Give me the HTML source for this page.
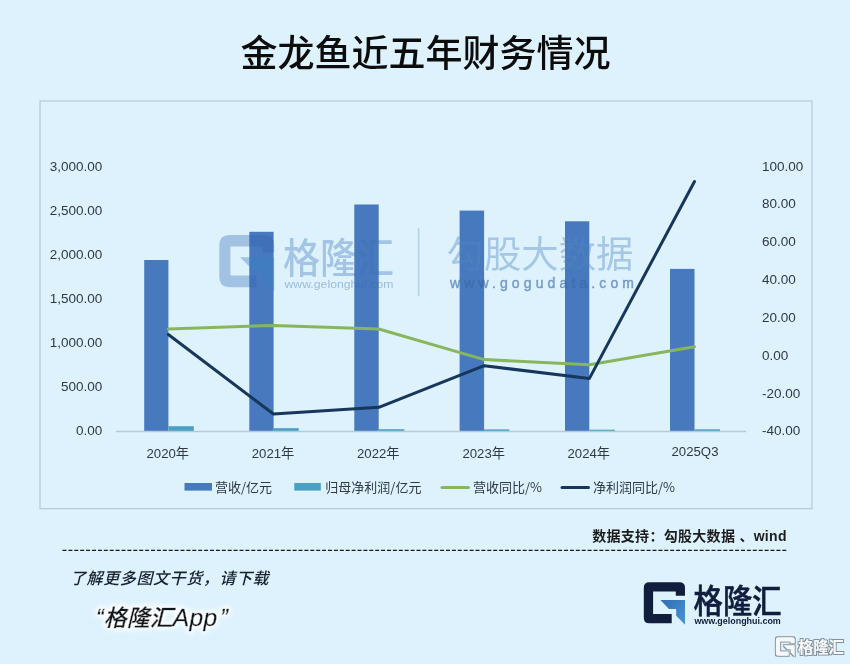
<!DOCTYPE html>
<html lang="zh-CN">
<head>
<meta charset="utf-8">
<title>金龙鱼近五年财务情况</title>
<style>
html,body{margin:0;padding:0;}
body{width:850px;height:664px;overflow:hidden;background:#def2fd;font-family:"Liberation Sans","Noto Sans CJK SC",sans-serif;}
svg{display:block;position:absolute;left:0;top:0;}
text{font-family:"Liberation Sans","Noto Sans CJK SC",sans-serif;}
.ax{font-size:13.5px;fill:#2f3943;}
.lg{font-size:13px;fill:#2f3943;font-family:"Noto Sans CJK SC","Liberation Sans",sans-serif;}
.xl{font-size:13.2px;}
</style>
</head>
<body>
<svg width="850" height="664" viewBox="0 0 850 664">
  <defs>
    <linearGradient id="gblue" x1="0" y1="0" x2="1" y2="1">
      <stop offset="0" stop-color="#2f6fb4"/>
      <stop offset="1" stop-color="#4a93d6"/>
    </linearGradient>
    <filter id="soft" x="-5%" y="-5%" width="110%" height="110%"><feGaussianBlur stdDeviation="0.45"/></filter>
    <filter id="wsh" x="-10%" y="-20%" width="120%" height="150%">
      <feMorphology in="SourceAlpha" operator="dilate" radius="0.6" result="d"/>
      <feGaussianBlur in="d" stdDeviation="0.45" result="b"/>
      <feOffset in="b" dx="0.35" dy="0.45" result="o"/>
      <feFlood flood-color="#6d7780" flood-opacity="0.8"/>
      <feComposite in2="o" operator="in" result="g"/>
      <feMerge><feMergeNode in="g"/><feMergeNode in="SourceGraphic"/></feMerge>
    </filter>
    <filter id="glow" x="-20%" y="-40%" width="140%" height="180%">
      <feMorphology in="SourceAlpha" operator="dilate" radius="2" result="d"/>
      <feGaussianBlur in="d" stdDeviation="2" result="b"/>
      <feFlood flood-color="#ffffff" flood-opacity="0.95"/>
      <feComposite in2="b" operator="in" result="g"/>
      <feMerge><feMergeNode in="g"/><feMergeNode in="SourceGraphic"/></feMerge>
    </filter>
  </defs>
  <rect x="0" y="0" width="850" height="664" fill="#def2fd"/>

  <!-- title -->
  <text x="425.5" y="66.5" text-anchor="middle" font-size="37" font-weight="500" fill="#0c0c0c" style="font-family:'Noto Sans CJK SC','Liberation Sans',sans-serif">金龙鱼近五年财务情况</text>

  <!-- chart frame -->
  <rect x="40" y="101" width="772" height="407.7" fill="none" stroke="#b9cbd7" stroke-width="1.3"/>

  <!-- bars -->
  <g fill="#4679bd">
    <rect x="144.2" y="260" width="24.2" height="171.3"/>
    <rect x="249.3" y="231.8" width="24.3" height="199.5"/>
    <rect x="354.3" y="204.5" width="24.4" height="226.8"/>
    <rect x="459.6" y="210.6" width="24.5" height="220.7"/>
    <rect x="565" y="221.3" width="24.3" height="210.0"/>
    <rect x="670" y="268.9" width="24.5" height="162.4"/>
  </g>
  <g fill="#4aa0c4">
    <rect x="168.4" y="426.2" width="25.4" height="5.1"/>
    <rect x="273.6" y="428.2" width="25.2" height="3.1"/>
    <rect x="378.7" y="429.2" width="25.6" height="2.1"/>
    <rect x="484.1" y="429.4" width="25.2" height="1.9"/>
    <rect x="589.3" y="429.7" width="25.6" height="1.6"/>
    <rect x="694.5" y="429.3" width="25.5" height="2.0"/>
  </g>
  <!-- axis line -->
  <line x1="115.8" y1="431.5" x2="746" y2="431.5" stroke="#b9cad6" stroke-width="1.3"/>

  <!-- watermark -->
  <g>
    <path fill="#2f68b0" fill-opacity="0.34" d="M229.5 235 H264 Q274.2 235 274.2 245.2 V252.5 H262.5 V246.6 H230.4 V275.6 H256.5 V287.2 H229.5 Q219.3 287.2 219.3 277 V245.2 Q219.3 235 229.5 235 Z"/>
    <path fill="#3b7fc6" fill-opacity="0.38" d="M240 257.3 H274.2 V291 L262.5 279 V269.8 H252.5 Z"/>
    <text transform="translate(283,273) scale(1,1.1)" x="0" y="0" font-size="37" font-weight="500" fill="#3a72b8" fill-opacity="0.36" style="font-family:'Noto Sans CJK SC',sans-serif">格隆汇</text>
    <text x="284.5" y="288.3" font-size="10.5" font-weight="400" fill="#3a6aa8" fill-opacity="0.4" textLength="109" lengthAdjust="spacingAndGlyphs">www.gelonghui.com</text>
    <line x1="418.6" y1="228" x2="418.6" y2="296" stroke="#3a6aa8" stroke-opacity="0.25" stroke-width="1.6"/>
    <text x="446.5" y="267.5" font-size="37.4" font-weight="400" fill="#5088c4" fill-opacity="0.4" style="font-family:'Noto Sans CJK SC',sans-serif">勾股大数据</text>
    <text x="450" y="288" font-size="14" font-weight="400" fill="#3a6aa8" fill-opacity="0.55" stroke="#3a6aa8" stroke-opacity="0.5" stroke-width="0.5" textLength="184" lengthAdjust="spacing">www.gogudata.com</text>
  </g>

  <!-- lines -->
  <polyline fill="none" stroke="#88b65e" stroke-width="3" stroke-linejoin="round" stroke-linecap="round"
    points="168.3,329 273.5,325.4 378.8,329 484.2,359.6 589.3,364.8 694.5,346.7"/>
  <polyline fill="none" stroke="#17365c" stroke-width="3" stroke-linejoin="round" stroke-linecap="round"
    points="168.3,334.5 273.5,414 378.8,407.3 484.2,365.7 589.3,378.6 694.5,181.5"/>

  <!-- left axis labels -->
  <g class="ax" text-anchor="end">
    <text x="102.3" y="170.8">3,000.00</text>
    <text x="102.3" y="214.9">2,500.00</text>
    <text x="102.3" y="259">2,000.00</text>
    <text x="102.3" y="303.1">1,500.00</text>
    <text x="102.3" y="347.2">1,000.00</text>
    <text x="102.3" y="391.3">500.00</text>
    <text x="102.3" y="435.4">0.00</text>
  </g>
  <!-- right axis labels -->
  <g class="ax" text-anchor="start">
    <text x="762" y="170.8">100.00</text>
    <text x="762" y="207.8">80.00</text>
    <text x="762" y="246.4">60.00</text>
    <text x="762" y="284.2">40.00</text>
    <text x="762" y="322">20.00</text>
    <text x="762" y="359.8">0.00</text>
    <text x="762" y="397.6">-20.00</text>
    <text x="762" y="435.4">-40.00</text>
  </g>
  <!-- x labels -->
  <g class="ax xl" text-anchor="middle">
    <text x="167.8" y="458">2020年</text>
    <text x="273" y="458">2021年</text>
    <text x="378.3" y="458">2022年</text>
    <text x="483.7" y="458">2023年</text>
    <text x="588.8" y="458">2024年</text>
    <text x="695" y="455.6">2025Q3</text>
  </g>

  <!-- legend -->
  <rect x="184.5" y="483" width="27.5" height="7.6" fill="#4679bd"/>
  <text class="lg" x="215" y="491.6">营收/亿元</text>
  <rect x="294.3" y="483" width="26.5" height="7.6" fill="#4aa0c4"/>
  <text class="lg" x="325.3" y="491.6">归母净利润/亿元</text>
  <line x1="442" y1="487.4" x2="468.5" y2="487.4" stroke="#88b65e" stroke-width="3" stroke-linecap="round"/>
  <text class="lg" x="473" y="491.6">营收同比/%</text>
  <line x1="562" y1="487.4" x2="588.5" y2="487.4" stroke="#17365c" stroke-width="3" stroke-linecap="round"/>
  <text class="lg" x="593" y="491.6">净利润同比/%</text>

  <!-- data source -->
  <text x="592.2" y="540.8" font-size="14" font-weight="700" fill="#1c1c1c" letter-spacing="0.3">数据支持：勾股大数据 、wind</text>

  <!-- dashed line -->
  <line x1="62.5" y1="550.45" x2="788" y2="550.45" stroke="#1a1a1a" stroke-width="1.25" stroke-dasharray="4 1.9"/>

  <!-- bottom-left text -->
  <text x="70" y="583.6" font-size="16" font-weight="500" font-style="italic" fill="#18222e" letter-spacing="0.6">了解更多图文干货，请下载</text>
  <text x="96" y="625.5" font-size="23" font-weight="500" font-style="italic" fill="#10161e" stroke="#10161e" stroke-width="0.35" filter="url(#glow)">“格隆汇<tspan font-size="24.6" letter-spacing="0.4">App</tspan><tspan dx="2.5">”</tspan></text>

  <!-- logo -->
  <g>
    <path fill="#111d3c" d="M649.3 582.3 H679.5 Q685 582.3 685 587.8 V595.8 H675.8 V591.5 H653.1 V613.9 H671.7 V623.2 H649.3 Q643.8 623.2 643.8 617.7 V587.8 Q643.8 582.3 649.3 582.3 Z"/>
    <path fill="url(#gblue)" d="M660.4 600 H685 V624.8 L676.2 615.8 V609 H668.9 Z"/>
    <text transform="translate(693.6,613.4) scale(1,1.13)" x="0" y="0" font-size="29.3" font-weight="500" fill="#111d3c" stroke="#111d3c" stroke-width="0.5" style="font-family:'Noto Sans CJK SC',sans-serif">格隆汇</text>
    <text x="694.4" y="624.3" font-size="8.6" font-weight="700" fill="#111d3c" textLength="86.4" lengthAdjust="spacingAndGlyphs">www.gelonghui.com</text>
  </g>

  <!-- corner watermark -->
  <g filter="url(#wsh)">
    <g fill="#f6f9fb">
      <path d="M778.4 637.2 H792.2 Q794.7 637.2 794.7 639.7 V643.3 H790.5 V641.4 H780.1 V651.5 H788.6 V655.7 H778.4 Q775.9 655.7 775.9 653.2 V639.7 Q775.9 637.2 778.4 637.2 Z"/>
      <path d="M783.5 645.2 H794.7 V656.4 L790.7 652.4 V649.3 H787.4 Z"/>
    </g>
    <text transform="translate(798,653.2) scale(1,1.06)" x="0" y="0" font-size="15.3" font-weight="700" fill="#f6f9fb" style="font-family:'Noto Sans CJK SC',sans-serif">格隆汇</text>
  </g>
</svg>
</body>
</html>
